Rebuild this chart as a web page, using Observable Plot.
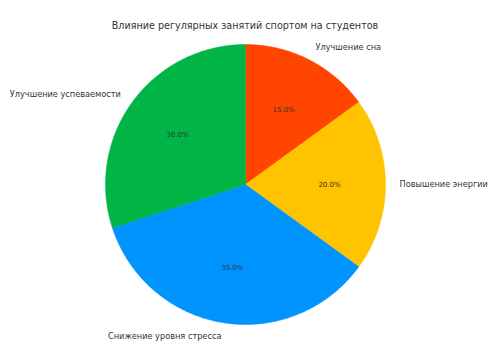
<!DOCTYPE html>
<html><head><meta charset="utf-8">
<script src="https://cdn.jsdelivr.net/npm/d3@7"></script>
<script src="https://cdn.jsdelivr.net/npm/@observablehq/plot@0.6"></script>
<style>body{margin:0;background:#fff}</style>
</head><body><div id="chart"></div>
<script>
const title = "Влияние регулярных занятий спортом на студентов";
const labels = ["Улучшение сна", "Повышение энергии", "Снижение уровня стресса", "Улучшение успеваемости"];
const values = [15, 20, 35, 30];
const colors = ["#ff4500", "#ffc300", "#0094ff", "#00b545"];

const W = 498, H = 351, cx = 245, cy = 184, R = 140;
const total = d3.sum(values);
// clockwise from top
let start = 90;
const slices = labels.map((l, i) => {
  const sweep = values[i] / total * 360;
  const a0 = start, a1 = start - sweep;
  start = a1;
  return {label: l, value: values[i], a0, a1, mid: (a0 + a1) / 2};
});
const rad = d => d * Math.PI / 180;
const poly = [];
for (const s of slices) {
  poly.push({label: s.label, x: 0, y: 0});
  const n = Math.max(2, Math.ceil(Math.abs(s.a0 - s.a1)));
  for (let k = 0; k <= n; k++) {
    const a = rad(s.a0 + (s.a1 - s.a0) * k / n);
    poly.push({label: s.label, x: Math.cos(a), y: Math.sin(a)});
  }
  poly.push({label: s.label, x: 0, y: 0});
}
const outer = slices.map(s => ({label: s.label, x: 1.1 * Math.cos(rad(s.mid)), y: 1.1 * Math.sin(rad(s.mid))}));
const inner = slices.map(s => ({text: (s.value / total * 100).toFixed(1) + "%", x: 0.6 * Math.cos(rad(s.mid)), y: 0.6 * Math.sin(rad(s.mid))}));

const chart = Plot.plot({
  width: W, height: H,
  margin: 0,
  style: {fontFamily: "DejaVu Sans", background: "#fff"},
  x: {domain: [-cx / R, (W - cx) / R], axis: null},
  y: {domain: [-(H - cy) / R, cy / R], axis: null},
  color: {domain: labels, range: colors},
  marks: [
    Plot.line(poly, {x: "x", y: "y", z: "label", fill: "label", stroke: "label", strokeWidth: 0.5, curve: "linear"}),
    Plot.text(outer.filter(d => d.x >= 0), {x: "x", y: "y", text: "label", textAnchor: "start", fontSize: 8.2, fill: "#333"}),
    Plot.text(outer.filter(d => d.x < 0), {x: "x", y: "y", text: "label", textAnchor: "end", fontSize: 8.2, fill: "#333"}),
    Plot.text(inner, {x: "x", y: "y", text: "text", fontSize: 7, fill: "#333"}),
    Plot.text([title], {frameAnchor: "top", dy: 22, text: d => d, fontSize: 9.6, fill: "#333", dx: -4.5})
  ]
});
document.getElementById("chart").append(chart);
</script></body></html>
